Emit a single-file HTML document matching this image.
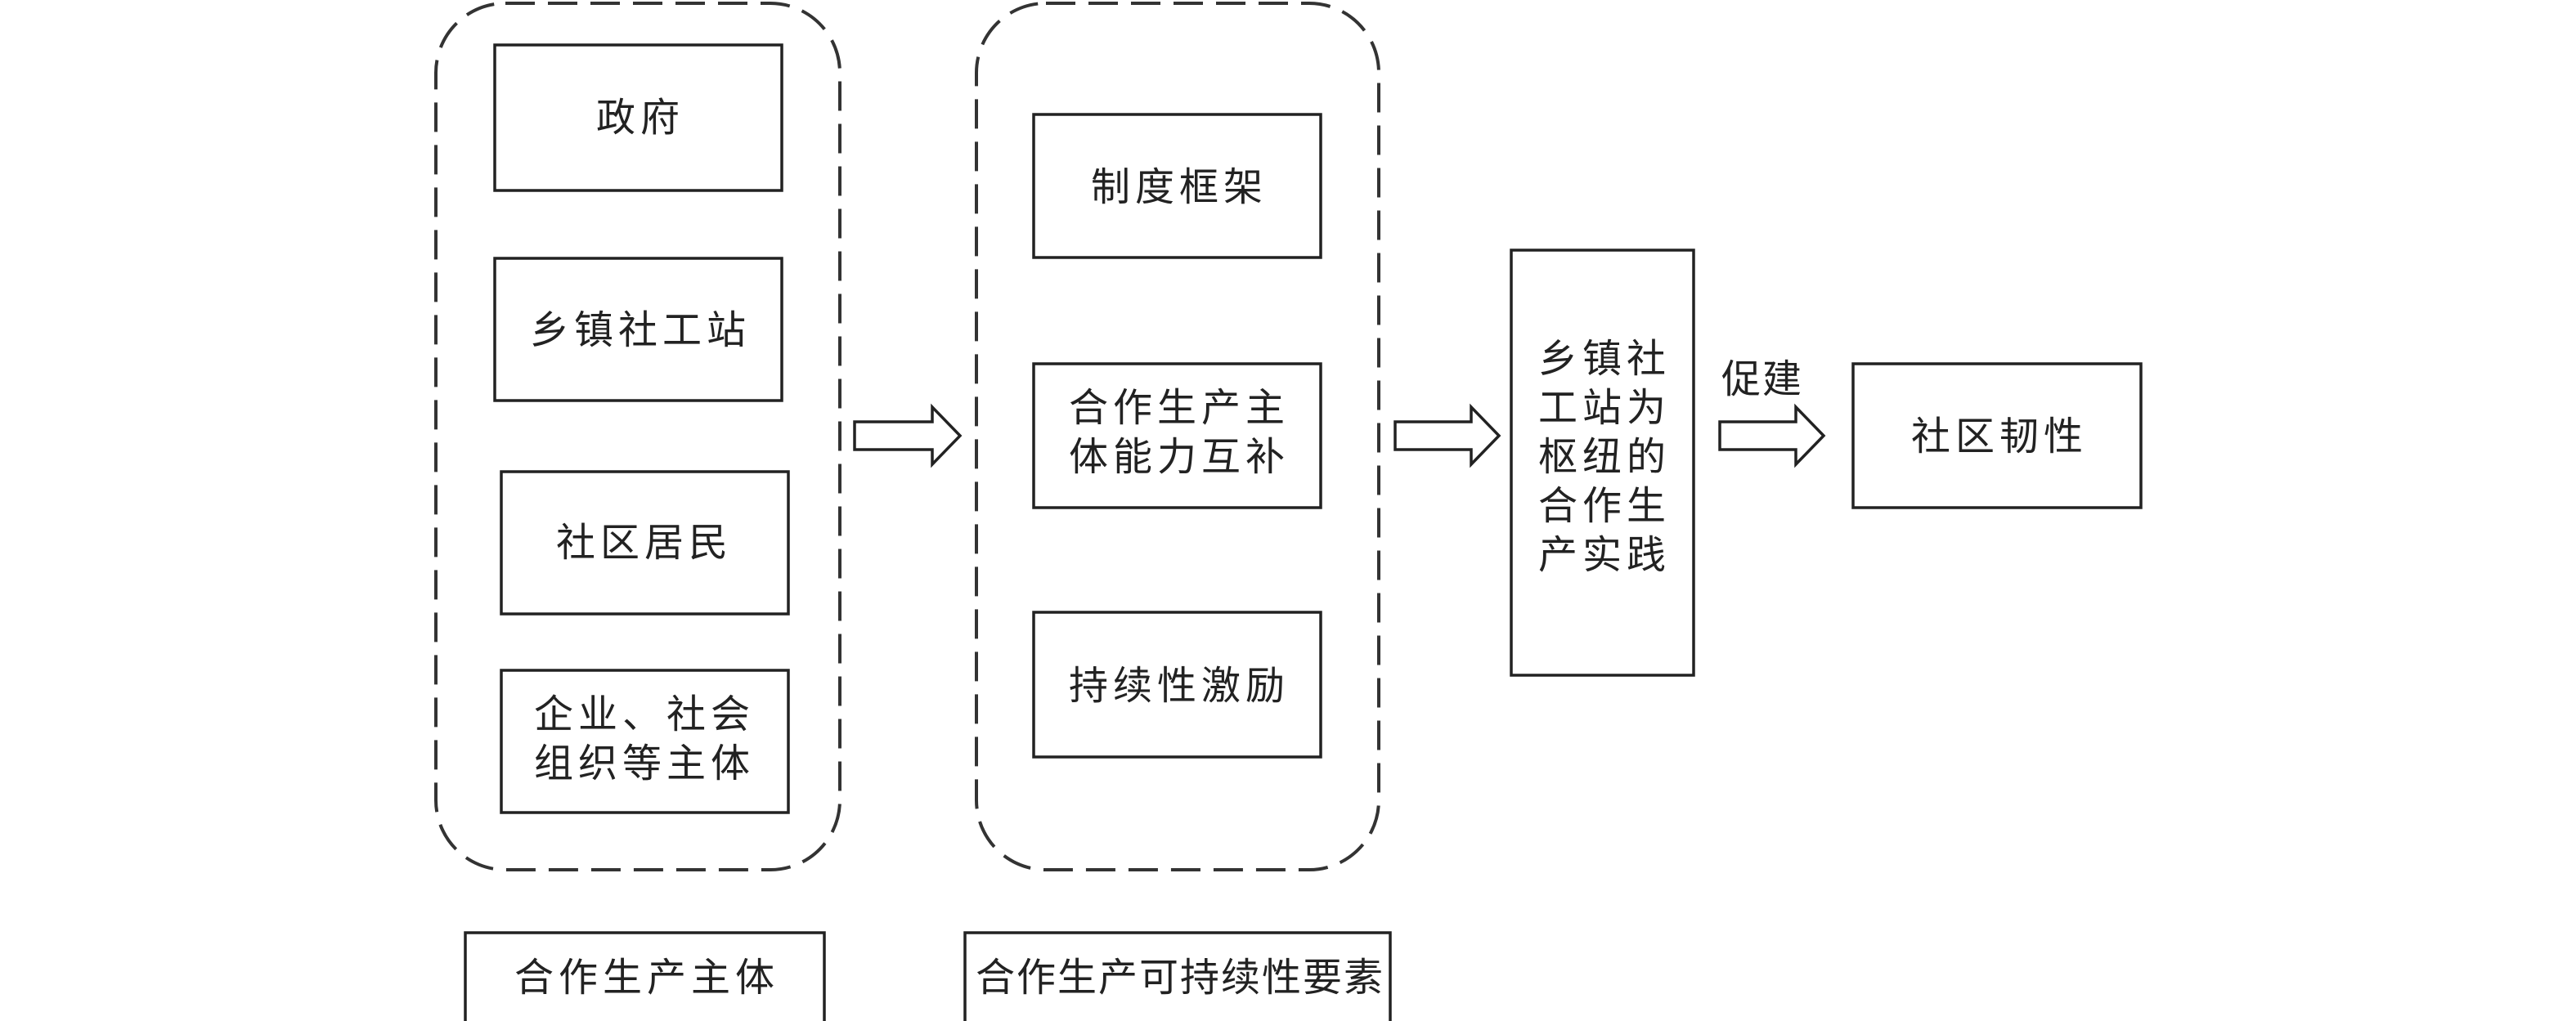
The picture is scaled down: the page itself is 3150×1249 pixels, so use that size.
<!DOCTYPE html>
<html><head><meta charset="utf-8"><style>
html,body{margin:0;padding:0;background:#fff;}
svg{display:block}
text{font-family:"Liberation Sans","Noto Sans CJK SC",sans-serif;font-size:48px;fill:#222;text-anchor:middle;letter-spacing:6px}
</style></head><body>
<svg width="3150" height="1249" viewBox="0 0 3150 1249" xmlns="http://www.w3.org/2000/svg">
<g fill="none" stroke="#333" stroke-width="4" stroke-dasharray="36,16">
<rect x="533" y="4" width="494" height="1060" rx="85" ry="85"/>
<rect x="1194" y="4" width="492" height="1060" rx="85" ry="85"/>
</g>
<g fill="#fff" stroke="#222" stroke-width="3.5">
<rect x="605" y="55" width="351" height="178"/>
<rect x="605" y="316" width="351" height="174"/>
<rect x="613" y="577" width="351" height="174"/>
<rect x="613" y="820" width="351" height="174"/>
<rect x="569" y="1141" width="439" height="110"/>
<rect x="1180" y="1141" width="520" height="110"/>
<rect x="1264" y="140" width="351" height="175"/>
<rect x="1264" y="445" width="351" height="176"/>
<rect x="1264" y="749" width="351" height="177"/>
<rect x="1848" y="306" width="223" height="520"/>
<rect x="2266" y="445" width="352" height="176"/>
</g>
<g fill="#fff" stroke="#222" stroke-width="3.5" stroke-linejoin="miter">
<polygon points="1045,516 1140,516 1140,498 1174,533 1140,568 1140,550 1045,550"/>
<polygon points="1706,516 1799,516 1799,498 1833,533 1799,568 1799,550 1706,550"/>
<polygon points="2103,516 2196,516 2196,498 2230,533 2196,568 2196,550 2103,550"/>
</g>
<text x="783" y="160">政府</text>
<text x="783" y="420">乡镇社工站</text>
<text x="788" y="680">社区居民</text>
<text x="788" y="890">企业、社会</text>
<text x="788" y="950">组织等主体</text>
<text x="791" y="1212">合作生产主体</text>
<text x="1443" y="1212" style="letter-spacing:2px">合作生产可持续性要素</text>
<text x="1442" y="245">制度框架</text>
<text x="1442" y="515">合作生产主</text>
<text x="1442" y="575">体能力互补</text>
<text x="1442" y="855">持续性激励</text>
<text x="1962" y="455">乡镇社</text>
<text x="1962" y="515">工站为</text>
<text x="1962" y="575">枢纽的</text>
<text x="1962" y="635">合作生</text>
<text x="1962" y="695">产实践</text>
<text x="2155" y="480" style="letter-spacing:2px">促建</text>
<text x="2445" y="550">社区韧性</text>
</svg>
</body></html>
